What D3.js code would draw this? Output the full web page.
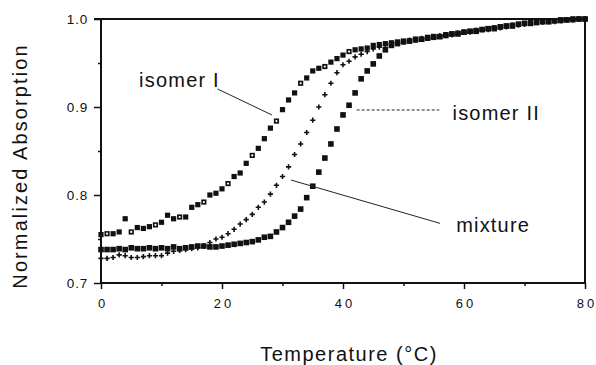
<!DOCTYPE html>
<html>
<head>
<meta charset="utf-8">
<script src="https://cdn.jsdelivr.net/npm/d3@7"></script>
<style>
  body { margin: 0; background: #fff; }
  svg text { font-family: "Liberation Sans", Arial, Helvetica, sans-serif; fill: #111; }
</style>
</head>
<body>
<div id="chart"></div>
<script>
// temperature (°C) of each reading
const temps = [0,1,2,3,4,5,6,7,8,9,10,11,12,13,14,15,16,17,18,19,20,
  21,22,23,24,25,26,27,28,29,30,31,32,33,34,35,36,37,38,39,40,
  41,42,43,44,45,46,47,48,49,50,51,52,53,54,55,56,57,58,59,60,
  61,62,63,64,65,66,67,68,69,70,71,72,73,74,75,76,77,78,79,80];

const isomerI = [0.755,0.756,0.756,0.758,0.773,0.758,0.763,0.762,0.764,0.766,0.769,
  0.777,0.773,0.775,0.775,0.786,0.789,0.792,0.800,0.802,0.807,
  0.813,0.821,0.825,0.836,0.845,0.853,0.864,0.876,0.884,0.897,
  0.908,0.916,0.927,0.933,0.941,0.944,0.946,0.951,0.955,0.959,
  0.963,0.965,0.966,0.967,0.970,0.971,0.972,0.973,0.974,0.975,
  0.975,0.976,0.977,0.978,0.979,0.980,0.981,0.983,0.984,0.985,
  0.986,0.987,0.988,0.989,0.990,0.991,0.992,0.993,0.994,0.995,
  0.996,0.996,0.997,0.997,0.998,0.998,0.999,0.999,1.000,1.000];

const isomerII = [0.738,0.738,0.738,0.739,0.738,0.740,0.739,0.739,0.740,0.739,0.740,
  0.739,0.741,0.739,0.740,0.741,0.742,0.742,0.741,0.741,0.742,
  0.743,0.744,0.745,0.746,0.747,0.749,0.752,0.753,0.758,0.763,
  0.769,0.776,0.784,0.797,0.810,0.826,0.842,0.858,0.875,0.891,
  0.902,0.916,0.932,0.941,0.949,0.958,0.965,0.970,0.972,0.974,
  0.975,0.977,0.977,0.979,0.980,0.980,0.982,0.983,0.983,0.985,
  0.986,0.986,0.988,0.989,0.989,0.991,0.992,0.992,0.994,0.995,
  0.995,0.996,0.997,0.997,0.998,0.999,0.999,1.000,1.000,1.000];

const mixture = [0.728,0.728,0.729,0.732,0.731,0.729,0.729,0.730,0.731,0.731,0.731,
  0.734,0.736,0.737,0.738,0.739,0.740,0.742,0.746,0.750,0.752,
  0.756,0.761,0.767,0.772,0.778,0.786,0.792,0.801,0.811,0.821,
  0.832,0.846,0.858,0.871,0.885,0.900,0.914,0.927,0.939,0.948,
  0.952,0.957,0.960,0.963,0.966,0.968,0.970,0.971,0.973,0.974,
  0.976,0.976,0.978,0.978,0.979,0.981,0.982,0.982,0.984,0.985,
  0.985,0.987,0.988,0.988,0.990,0.990,0.991,0.993,0.993,0.994,
  0.995,0.996,0.996,0.997,0.997,0.998,0.999,0.999,1.000,1.000];

const xTicks = [0, 20, 40, 60, 80];
const xMinor = [10, 30, 50, 70];
const yTicks = [0.7, 0.8, 0.9, 1.0];
const yMinor = [0.75, 0.85, 0.95];

const width = 596, height = 365;
const margin = { top: 19, right: 11, bottom: 82, left: 101 };

const svg = d3.select('#chart').append('svg')
  .attr('width', width)
  .attr('height', height);

const x = d3.scaleLinear().domain([0, 80]).range([margin.left, width - margin.right]);
const y = d3.scaleLinear().domain([0.7, 1.0]).range([height - margin.bottom, margin.top]);

// axes
const yAxis = svg.append('g')
  .attr('transform', `translate(${margin.left},0)`)
  .call(d3.axisLeft(y).tickValues(yTicks).tickFormat(d3.format('.1f')).tickSize(7).tickPadding(6).tickSizeOuter(0));
yAxis.selectAll('text').style('font-size', '13.5px').style('letter-spacing', '0.8px');

svg.append('g')
  .attr('transform', `translate(${margin.left},0)`)
  .call(d3.axisLeft(y).tickValues(yMinor).tickFormat('').tickSize(3).tickSizeOuter(0));

const xAxis = svg.append('g')
  .attr('transform', `translate(0,${height - margin.bottom})`)
  .call(d3.axisBottom(x).tickValues(xTicks).tickSize(6).tickPadding(10).tickSizeOuter(0));
xAxis.selectAll('text').style('font-size', '13px').style('letter-spacing', '3px').attr('dx', '1.5px');

svg.append('g')
  .attr('transform', `translate(0,${height - margin.bottom})`)
  .call(d3.axisBottom(x).tickValues(xMinor).tickFormat('').tickSize(3).tickSizeOuter(0));

svg.selectAll('.domain').remove();
svg.selectAll('.tick line').attr('stroke', '#111').attr('stroke-width', 1.5);

// frame
const frame = svg.append('g').attr('stroke', '#111').attr('stroke-width', 2);
frame.append('line').attr('x1', x(0) - 7).attr('x2', x(80)).attr('y1', y(1)).attr('y2', y(1));
frame.append('line').attr('x1', x(0)).attr('x2', x(80)).attr('y1', y(0.7)).attr('y2', y(0.7));
frame.append('line').attr('x1', x(0)).attr('x2', x(0)).attr('y1', y(1)).attr('y2', y(0.7));
frame.append('line').attr('x1', x(80)).attr('x2', x(80)).attr('y1', y(1)).attr('y2', y(0.7));

// axis titles
svg.append('text')
  .attr('transform', `translate(27,${(margin.top + height - margin.bottom) / 2 + 15}) rotate(-90)`)
  .attr('text-anchor', 'middle')
  .style('font-size', '20px')
  .style('letter-spacing', '2.1px')
  .text('Normalized Absorption');

svg.append('text')
  .attr('x', (margin.left + width - margin.right) / 2 + 6)
  .attr('y', 361)
  .attr('text-anchor', 'middle')
  .style('font-size', '20px')
  .style('letter-spacing', '1.5px')
  .text('Temperature (°C)');

// markers
const pts = (vals) => temps.map((t, i) => ({ t, v: vals[i], i }));

const gI = svg.append('g');
gI.selectAll('rect').data(pts(isomerI)).enter().append('rect')
  .attr('x', d => x(d.t) - 2.6).attr('y', d => y(d.v) - 2.6)
  .attr('width', 5.2).attr('height', 5.2)
  .attr('fill', '#111');
gI.selectAll('circle').data(pts(isomerI).filter(d => d.t < 44 && d.i % 4 === 1)).enter().append('circle')
  .attr('cx', d => x(d.t)).attr('cy', d => y(d.v)).attr('r', 1.1)
  .attr('fill', '#fff');

svg.append('g').selectAll('rect').data(pts(isomerII)).enter().append('rect')
  .attr('x', d => x(d.t) - 2.8).attr('y', d => y(d.v) - 2.8)
  .attr('width', 5.6).attr('height', 5.6)
  .attr('fill', '#111');

svg.append('g').selectAll('path').data(pts(mixture)).enter().append('path')
  .attr('d', d => `M${x(d.t) - 2.6},${y(d.v)}h5.2M${x(d.t)},${y(d.v) - 2.6}v5.2`)
  .attr('stroke', '#111').attr('stroke-width', 1.6);

// labels with leader lines (data units)
const notes = [
  { text: 'isomer I', tx: 6.3, ty: 0.9227, from: [19.26, 0.9205], to: [28.26, 0.8909], dash: null },
  { text: 'isomer II', tx: 58.1, ty: 0.8847, from: [42.26, 0.8966], to: [55.92, 0.8966], dash: '3,2' },
  { text: 'mixture', tx: 58.7, ty: 0.7583, from: [31.4, 0.817], to: [56.03, 0.7678], dash: null }
];

const ann = svg.append('g');
ann.selectAll('line').data(notes).enter().append('line')
  .attr('x1', d => x(d.from[0])).attr('y1', d => y(d.from[1]))
  .attr('x2', d => x(d.to[0])).attr('y2', d => y(d.to[1]))
  .attr('stroke', '#222').attr('stroke-width', 1)
  .attr('stroke-dasharray', d => d.dash);
ann.selectAll('text').data(notes).enter().append('text')
  .attr('x', d => x(d.tx)).attr('y', d => y(d.ty))
  .style('font-size', '20px')
  .style('letter-spacing', '1.2px')
  .text(d => d.text);
</script>
</body>
</html>
